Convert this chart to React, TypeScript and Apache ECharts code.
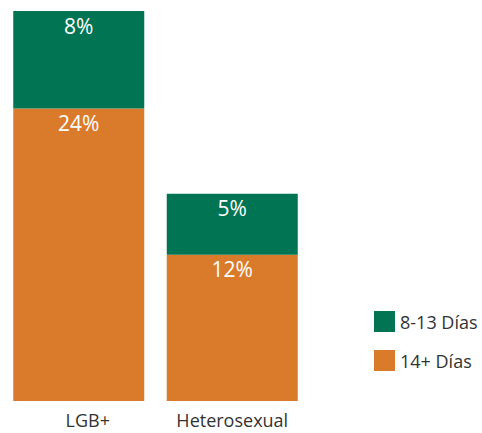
import React, { useEffect, useRef } from "react";
import * as echarts from "echarts";

const categories = ["LGB+", "Heterosexual"];
const days14Plus = [24, 12];
const days8to13 = [8, 5];
const seriesNames = ["8-13 Días", "14+ Días"];

const GREEN = "#017453";
const ORANGE = "#D97B2A";
const FONT = "Open Sans";

export default function App() {
  const ref = useRef<HTMLDivElement>(null);
  useEffect(() => {
    document.body.style.margin = "0";
    if (!ref.current) return;
    const chart = echarts.init(ref.current, null, { renderer: "svg" });
    const labelCfg = {
      show: true,
      position: "insideTop" as const,
      distance: 4,
      color: "#ffffff",
      fontSize: 21,
      fontFamily: FONT,
      formatter: "{c}%",
    };
    chart.setOption({
      animation: false,
      grid: { left: 2, right: 173, top: 11, bottom: 32, containLabel: false },
      legend: {
        data: seriesNames,
        orient: "vertical",
        left: 369,
        top: 306,
        itemWidth: 21,
        itemHeight: 21,
        itemGap: 18,
        icon: "rect",
        textStyle: { fontSize: 18, color: "#333", fontFamily: FONT, padding: [0, 0, 0, 0] },
      },
      xAxis: {
        type: "category",
        data: categories.map((c, i) =>
          i === 0 ? { value: c, textStyle: { padding: [0, 0, 0, 18] } } : c
        ),
        axisLine: { show: false },
        axisTick: { show: false },
        axisLabel: {
          interval: 0,
          margin: 10,
          fontSize: 18,
          color: "#333",
          fontFamily: FONT,
        },
      },
      yAxis: { type: "value", min: 0, max: 32, show: false, splitLine: { show: false } },
      series: [
        {
          name: seriesNames[1],
          type: "bar",
          stack: "total",
          data: days14Plus,
          barWidth: 131,
          itemStyle: { color: ORANGE },
          label: labelCfg,
        },
        {
          name: seriesNames[0],
          type: "bar",
          stack: "total",
          data: days8to13,
          barWidth: 131,
          itemStyle: { color: GREEN },
          label: labelCfg,
        },
      ],
    });
    return () => chart.dispose();
  }, []);
  return <div ref={ref} style={{ width: 482, height: 433 }} />;
}
